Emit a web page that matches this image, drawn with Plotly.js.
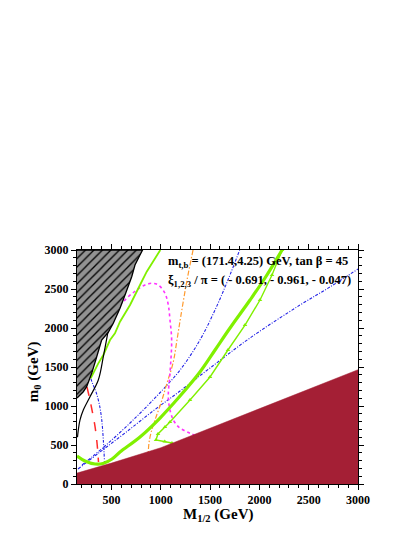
<!DOCTYPE html>
<html>
<head>
<meta charset="utf-8">
<script src="https://cdn.plot.ly/plotly-3.0.1.min.js"></script>
<style>html,body{margin:0;padding:0;background:#fff;}#chart{width:420px;height:543px;}</style>
</head>
<body>
<div id="chart"></div>
<script>
// ---- data (M_1/2 in GeV, m_0 in GeV) ----
const xTicks = [500, 1000, 1500, 2000, 2500, 3000];
const yTicks = [0, 500, 1000, 1500, 2000, 2500, 3000];

// excluded region (filled dark red)
const redM  = [150, 500, 1000, 1500, 2000, 2500, 3000];
const redM0 = [140, 268, 465, 715, 960, 1208, 1465];

// hatched region boundary (top-left)
const hatchM  = [150, 815, 789, 738, 705, 688, 637, 586, 518, 467, 400, 350, 299, 248, 214, 163, 150];
const hatchM0 = [3000, 3000, 2936, 2808, 2658, 2593, 2423, 2252, 2060, 1945, 1846, 1632, 1419, 1247, 1183, 1119, 1103];

// black solid line next to hatched region
const blackM  = [464, 417, 366, 282, 214, 180, 163, 155];
const blackM0 = [1949, 1632, 1333, 1119, 949, 820, 690, 600];

// green line parallel to hatched region
const greenAM  = [995, 941, 857, 789, 688, 586, 535, 485, 417, 366, 333, 289];
const greenAM0 = [3000, 2893, 2722, 2551, 2295, 2081, 1932, 1846, 1654, 1547, 1461, 1355];

// thick green band
const greenBM  = [150, 231, 333, 414, 505, 586, 789, 992, 1195, 1397, 1550, 1702, 1905, 2057, 2230];
const greenBM0 = [359, 295, 256, 263, 320, 410, 603, 846, 1128, 1436, 1718, 2000, 2359, 2641, 3000];

// thin green line with hook
const greenCM  = [1113, 1040, 951, 971, 1042, 1093, 1296, 1499, 1681, 1854, 2006, 2128, 2230];
const greenCM0 = [526, 545, 564, 641, 731, 795, 1077, 1372, 1718, 2038, 2359, 2679, 3000];

// magenta dotted arch
const magM  = [451, 553, 654, 755, 840, 908, 975, 1042, 1076, 1093, 1110, 1093, 1076, 1093, 1127, 1177, 1228, 1296, 1345];
const magM0 = [1945, 2231, 2381, 2487, 2551, 2573, 2551, 2445, 2295, 2103, 1846, 1419, 1119, 949, 820, 735, 692, 650, 625];

// orange dash-dot
const orM  = [1327, 1266, 1205, 1164, 1124, 1063, 1002, 941, 900, 880, 873];
const orM0 = [3000, 2615, 2167, 1846, 1551, 1295, 1038, 820, 654, 526, 410];

// red dashed
const rdM  = [251, 277, 302, 333, 353, 368];
const rdM0 = [1244, 1103, 949, 735, 526, 282];

// blue dash-dot curves
const blue1M  = [272, 302, 343, 378, 401, 417, 429];
const blue1M0 = [1436, 1308, 1180, 1013, 820, 564, 282];
const blue2M  = [201, 434, 688, 941, 1195, 1397, 1550, 1681, 1800];
const blue2M0 = [244, 487, 782, 1103, 1461, 1846, 2231, 2615, 3000];
const blue3M  = [160, 383, 637, 921, 1195, 1499, 1905, 2412, 2716, 3000];
const blue3M0 = [192, 410, 654, 936, 1192, 1487, 1872, 2295, 2526, 2756];

const line1 = "m<sub>t,b</sub> = (171.4,4.25) GeV, tan \u03b2 = 45";
const line2 = "\u03be<sub>1,2,3</sub> / \u03c0 = ( - 0.691, - 0.961, - 0.047)";
const xTitle = "M<sub>1/2</sub> (GeV)";
const yTitle = "m<sub>0</sub> (GeV)";

const serif = "Liberation Serif";
const BLUE = "#2323e6", GREEN = "#80f000";
const BDASH = "3px,1.5px,1px,1.5px";

const traces = [
  {x: blue1M, y: blue1M0, mode: "lines", line: {color: BLUE, width: 1.1, dash: BDASH, shape: "spline"}},
  {x: blue2M, y: blue2M0, mode: "lines", line: {color: BLUE, width: 1.1, dash: BDASH, shape: "spline"}},
  {x: blue3M, y: blue3M0, mode: "lines", line: {color: BLUE, width: 1.1, dash: BDASH, shape: "spline"}},
  {x: orM, y: orM0, mode: "lines", line: {color: "#ff9a2e", width: 1.2, dash: "5px,2px,1.5px,2px", shape: "spline"}},
  {x: magM, y: magM0, mode: "lines", line: {color: "#ff33ff", width: 1.6, dash: "dot", shape: "spline"}},
  {x: rdM, y: rdM0, mode: "lines", line: {color: "#ff2a2a", width: 1.5, dash: "dash", shape: "spline"}},
  {x: greenAM, y: greenAM0, mode: "lines", line: {color: GREEN, width: 1.8}},
  {x: greenBM, y: greenBM0, mode: "lines", line: {color: GREEN, width: 3.2, shape: "spline"}},
  {x: greenCM, y: greenCM0, mode: "lines+markers", line: {color: GREEN, width: 1.4},
   marker: {symbol: "triangle-up", size: 4, color: GREEN}},
  {x: blackM, y: blackM0, mode: "lines", line: {color: "#000", width: 1.2, shape: "spline"}},
  {x: redM, y: redM0, mode: "lines", fill: "tozeroy", fillcolor: "#a41f35", line: {color: "#a41f35", width: 0.5}},
  {x: hatchM, y: hatchM0, mode: "lines", fill: "toself", fillcolor: "#929292",
   fillpattern: {shape: "/", bgcolor: "#929292", fgcolor: "#000", size: 6, solidity: 0.22},
   line: {color: "#000", width: 1.3}}
];

const axisCommon = {
  showgrid: false, zeroline: false, showline: true, linecolor: "#000", linewidth: 1,
  mirror: "allticks", ticks: "outside", ticklen: 5, tickwidth: 1, tickcolor: "#000",
  tickfont: {family: serif, size: 12, color: "#000", weight: "bold"},
  minor: {ticks: "outside", ticklen: 3, dtick: 100, tickcolor: "#000", showgrid: false}
};

const titleFont = {family: serif, size: 15, color: "#000", weight: "bold"};
const textFont = {family: serif, size: 12.5, color: "#000", weight: "bold"};

const layout = {
  width: 420, height: 543,
  margin: {l: 77, r: 62, t: 250, b: 59},
  paper_bgcolor: "#fff", plot_bgcolor: "#fff",
  showlegend: false,
  xaxis: Object.assign({}, axisCommon, {range: [150, 3000], tickvals: xTicks, ticktext: xTicks.map(String)}),
  yaxis: Object.assign({}, axisCommon, {range: [0, 3000], tickvals: yTicks, ticktext: yTicks.map(String)}),
  annotations: [
    {xref: "paper", yref: "paper", x: 0.317, y: 0.95, xanchor: "left", yanchor: "middle", showarrow: false,
     text: line1, font: textFont},
    {xref: "paper", yref: "paper", x: 0.317, y: 0.868, xanchor: "left", yanchor: "middle", showarrow: false,
     text: line2, font: textFont},
    {xref: "paper", yref: "paper", x: 0.505, y: -0.134, xanchor: "center", yanchor: "middle", showarrow: false,
     text: xTitle, font: titleFont},
    {xref: "paper", yref: "paper", x: -0.155, y: 0.48, xanchor: "center", yanchor: "middle", showarrow: false,
     textangle: -90, text: yTitle, font: titleFont}
  ]
};

Plotly.newPlot("chart", traces, layout, {displayModeBar: false, staticPlot: true});
</script>
</body>
</html>
